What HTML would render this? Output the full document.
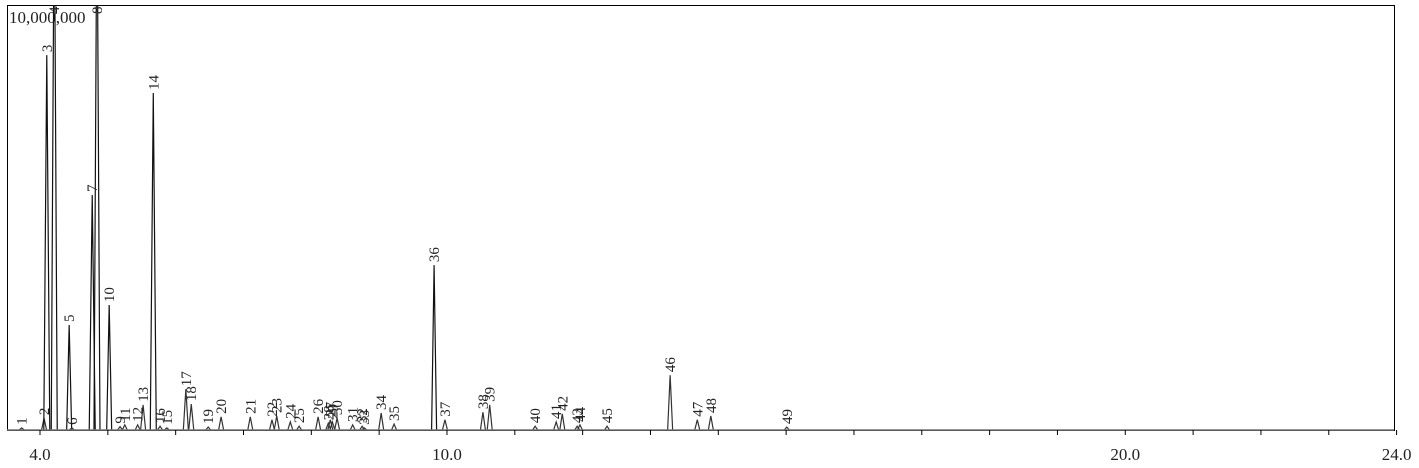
<!DOCTYPE html>
<html><head><meta charset="utf-8"><style>
html,body{margin:0;padding:0;background:#fff;}
svg{display:block;font-family:"Liberation Serif",serif;}
</style></head><body>
<svg id="chart" width="1419" height="468" viewBox="0 0 1419 468" xmlns="http://www.w3.org/2000/svg">
<defs><clipPath id="plotclip"><rect x="7" y="5" width="1387" height="426"/></clipPath></defs>
<rect x="7.5" y="5.5" width="1387" height="425" fill="none" stroke="#000" stroke-width="1"/>
<text x="9" y="23" font-size="17" fill="#222">10,000,000</text>
<g id="peaks" clip-path="url(#plotclip)"></g>
<g id="labels"></g>
<g id="axis"></g>
</svg>
<script>
const peakIds = [1,2,3,4,5,6,7,8,9,10,11,12,13,14,15,16,17,18,19,20,21,22,23,24,25,26,27,28,29,30,31,32,33,34,35,36,37,38,39,40,41,42,43,44,45,46,47,48,49];
const retentionTimes = [3.73,4.06,4.10,4.21,4.43,4.47,4.77,4.84,5.18,5.02,5.25,5.44,5.52,5.67,5.87,5.77,6.15,6.23,6.48,6.67,7.10,7.42,7.49,7.69,7.82,8.10,8.28,8.25,8.31,8.38,8.61,8.75,8.78,9.03,9.22,9.81,9.97,10.53,10.63,11.30,11.61,11.70,11.92,11.96,12.36,13.29,13.69,13.89,15.01];
const intensities = [0.5,2.8,88.2,130,24.7,0.5,55.3,130,0.8,29.4,1.2,1.2,5.9,79.3,0.5,0.9,9.6,6.1,0.7,3.1,3.1,2.4,3.3,1.9,0.9,3.1,2.4,1.6,1.9,2.8,1.2,0.9,0.5,4.0,1.4,38.8,2.4,4.2,5.9,0.9,1.9,3.8,0.9,1.2,0.9,12.9,2.4,3.3,0.7];
const tickMinutes = [4,5,6,7,8,9,10,11,12,13,14,15,16,17,18,19,20,21,22,23,24];
const tickLabels = ["4.0","10.0","20.0","24.0"];

const NS = "http://www.w3.org/2000/svg";
const X0 = 40, PXPERMIN = 67.83, BASE = 430, FULL = 425;
function xs(t){ return X0 + (t - 4) * PXPERMIN; }
function ys(p){ return BASE - p / 100 * FULL; }
function mk(tag, attrs, parent){ const e = document.createElementNS(NS, tag); for (const k in attrs) e.setAttribute(k, attrs[k]); parent.appendChild(e); return e; }

const gP = document.getElementById('peaks');
const gL = document.getElementById('labels');
const gA = document.getElementById('axis');

const base = mk('line', {x1:7, y1:BASE, x2:1394, y2:BASE, stroke:'#777', 'stroke-width':1.5}, gA);



retentionTimes.forEach((t, i) => {
  const x = xs(t), top = ys(intensities[i]);
  const w = intensities[i] > 50 ? 3 : 2.5;
  const p = mk('path', {d:`M${x-w},${BASE} L${x},${top} L${x+w},${BASE}`, fill:'none', stroke: intensities[i] > 20 ? '#111' : '#333', 'stroke-width':1.2}, gP);
  
  
  const ly = Math.max(top - 3, 14);
  const txt = mk('text', {x:x+5, y:ly, 'font-size':15, fill:'#222', transform:`rotate(-90 ${x+5} ${ly})`}, gL);
  txt.textContent = peakIds[i];
  
  
});

tickMinutes.forEach(m => {
  const x = xs(m);
  const tk = mk('line', {x1:x, y1:BASE, x2:x, y2:BASE+5, stroke:'#000', 'stroke-width':1}, gA);
  
  
});
tickLabels.forEach(l => {
  const x = xs(parseFloat(l));
  const tl = mk('text', {x:x, y:460, 'font-size':17, 'text-anchor':'middle', fill:'#222'}, gA);
  tl.textContent = l;
  
  
});
</script>
</body></html>
